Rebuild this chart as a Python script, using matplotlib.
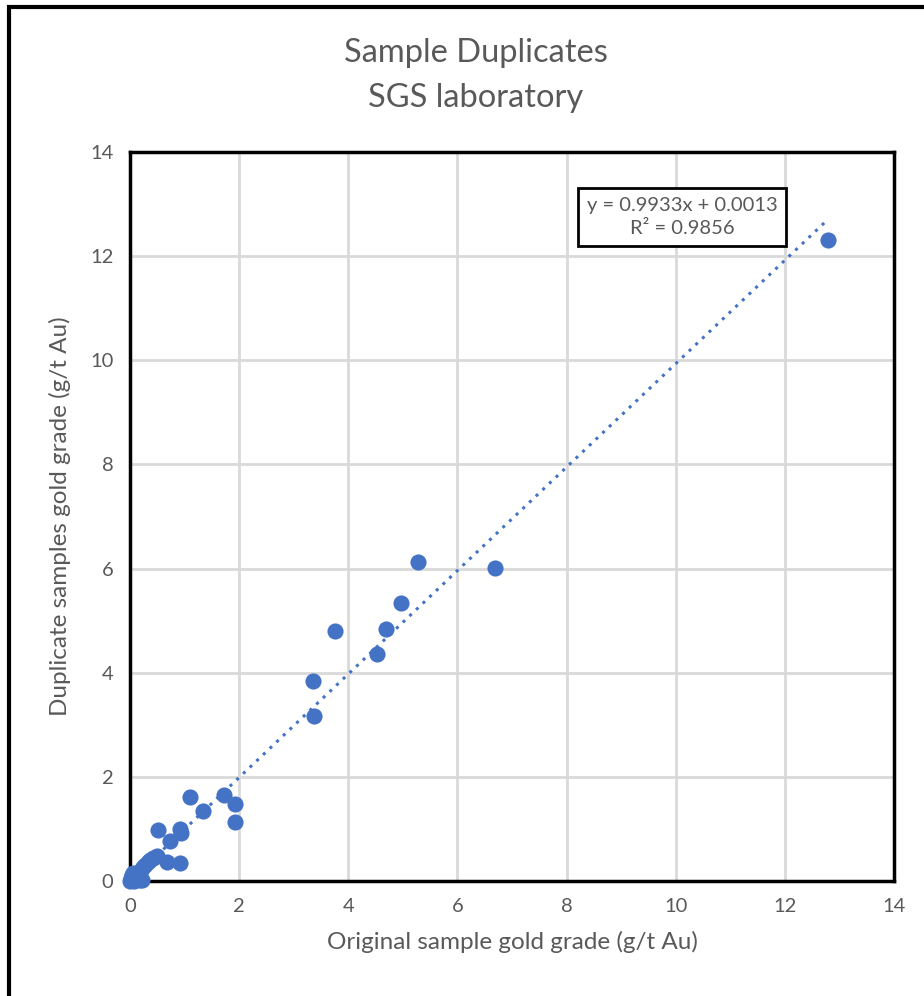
import matplotlib.pyplot as plt
from matplotlib.patches import Rectangle

# original vs duplicate gold assays (g/t Au)
original = [12.79, 6.69, 5.28, 4.97, 4.69, 4.52, 3.76, 3.35, 3.37,
            1.72, 1.92, 1.92, 1.10, 1.34, 0.51, 0.92, 0.93, 0.73, 0.92, 0.68,
            0.49, 0.37, 0.42, 0.33, 0.28, 0.24, 0.20, 0.16, 0.12, 0.09, 0.06,
            0.04, 0.02, 0.01, 0.00, 0.10, 0.18, 0.05, 0.14, 0.22, 0.03, 0.08]
duplicate = [12.31, 6.01, 6.13, 5.34, 4.84, 4.36, 4.80, 3.84, 3.17,
             1.65, 1.48, 1.13, 1.61, 1.34, 0.98, 0.99, 0.92, 0.77, 0.35, 0.36,
             0.47, 0.40, 0.44, 0.36, 0.30, 0.26, 0.22, 0.17, 0.14, 0.10, 0.07,
             0.12, 0.05, 0.02, 0.00, 0.03, 0.02, 0.16, 0.06, 0.01, 0.08, 0.00]

slope, intercept = 0.9933, 0.0013
r2 = 0.9856

grey = '#595959'
blue = '#4472C4'
plt.rcParams['font.family'] = ['Lato', 'DejaVu Sans']

fig = plt.figure(figsize=(9.24, 9.96), dpi=100)
ax = fig.add_axes([0.1407, 0.1155, 0.8268, 0.7319])

ax.scatter(original, duplicate, s=135, color=blue, zorder=3, linewidths=0, clip_on=False)

xs = [min(original), max(original)]
ax.plot(xs, [slope * v + intercept for v in xs], linestyle=(0, (1, 2)),
        color=blue, linewidth=2.2, zorder=2)

ax.set_xlim(0, 14)
ax.set_ylim(0, 14)
ax.set_xticks(range(0, 15, 2))
ax.set_yticks(range(0, 15, 2))
ax.grid(True, color='#d9d9d9', linewidth=2)
ax.set_axisbelow(True)
for s in ax.spines.values():
    s.set_color('black')
    s.set_linewidth(2.5)
    s.set_zorder(2.5)
ax.tick_params(length=0, labelsize=14.5, labelcolor=grey, pad=12)

ax.set_xlabel('Original sample gold grade (g/t Au)', fontsize=17.5, color=grey, labelpad=12)
ax.set_ylabel('Duplicate samples gold grade (g/t Au)', fontsize=17.5, color=grey, labelpad=14)

fig.text(0.515, 0.947, 'Sample Duplicates', ha='center', va='center', fontsize=23.5, color=grey)
fig.text(0.515, 0.902, 'SGS laboratory', ha='center', va='center', fontsize=23.5, color=grey)

ax.text(0.7225, 0.911, f'y = {slope}x + {intercept}\nR² = {r2}', transform=ax.transAxes,
        ha='center', va='center', fontsize=14.5, color=grey, linespacing=1.4,
        bbox=dict(boxstyle='square,pad=0.45', facecolor='white', edgecolor='black', linewidth=2))

# outer chart frame
fig.patches.append(Rectangle((9 / 924, -0.1), 1.2, 1.1 - 7 / 996,
                             transform=fig.transFigure, fill=False,
                             edgecolor='black', linewidth=3))

fig.savefig('out.png', dpi=100)
